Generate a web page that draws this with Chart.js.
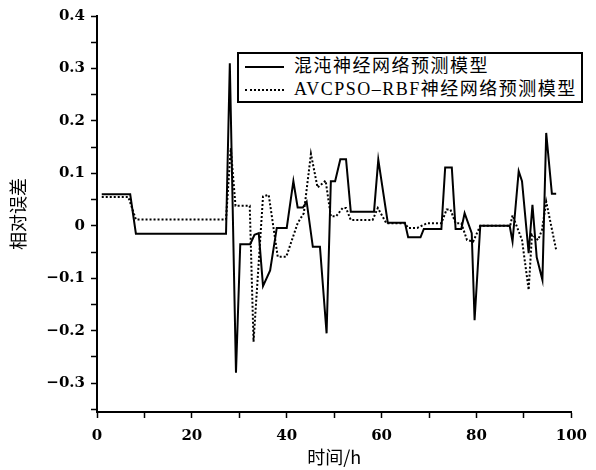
<!DOCTYPE html>
<html lang="zh-CN">
<head>
<meta charset="UTF-8">
<title>相对误差对比</title>
<script src="https://cdn.jsdelivr.net/npm/chart.js"></script>
<style>
  html, body { margin: 0; padding: 0; background: #fff; }
  .wrap { position: relative; width: 596px; height: 470px; }
  #legend {
    position: absolute; left: 237px; top: 52px; width: 342px; height: 47px;
    border: 2px solid #000; background: #fff; color: #000;
    font-family: 'Liberation Serif', 'Noto Sans CJK SC', serif;
    font-size: 18px; letter-spacing: 1.5px;
  }
  .row { position: absolute; left: 0; height: 22px; line-height: 22px; white-space: nowrap; }
  .row .sample { position: absolute; left: 6px; top: 11px; width: 39px; border-top: 2px solid #000; }
  .row .sample.dot { border-top: 2px dotted #000; }
  .row .txt { position: absolute; left: 55px; top: 0; }
</style>
</head>
<body>
<div class="wrap">
  <canvas id="errChart" width="596" height="470"></canvas>
  <div id="legend">
    <div class="row" style="top:1px"><span class="sample"></span><span class="txt">混沌神经网络预测模型</span></div>
    <div class="row" style="top:24px"><span class="sample dot"></span><span class="txt">AVCPSO–RBF神经网络预测模型</span></div>
  </div>
</div>

<script>
  // 混沌神经网络预测模型 (实线)
  const chaosHours = [1, 7, 8.2, 27.2, 28, 29.3, 30.2, 32.3, 33.2, 34.1, 35, 36.5, 37.9, 40, 41.4, 42.3, 43.4, 44.2, 45.5, 47, 48.4, 49.3, 50.2, 51.3, 52.5, 53.5, 58.4, 59.3, 61.3, 64.9, 65.6, 68.2, 68.9, 72.6, 73.4, 74.8, 75.6, 76.8, 77.5, 79, 79.6, 80.8, 87, 87.6, 88.9, 89.6, 91, 91.8, 92.7, 93.9, 94.7, 95.9, 96.8];
  const chaosErr = [0.06, 0.06, -0.015, -0.015, 0.31, -0.28, -0.035, -0.035, -0.017, -0.014, -0.115, -0.085, -0.004, -0.004, 0.085, 0.035, 0.035, 0.046, -0.04, -0.04, -0.205, 0.085, 0.085, 0.127, 0.127, 0.027, 0.027, 0.126, 0.006, 0.006, -0.022, -0.022, -0.006, -0.006, 0.111, 0.111, -0.006, -0.006, 0.024, -0.014, -0.18, 0, 0, -0.03, 0.104, 0.085, -0.052, 0.04, -0.06, -0.103, 0.177, 0.061, 0.061];

  // AVCPSO-RBF神经网络预测模型 (点线)
  const rbfHours = [1, 6.6, 8.2, 27.2, 28.2, 29.2, 32.2, 33, 35, 36.2, 38.1, 39.9, 42.3, 43.6, 45.1, 46.5, 48.2, 49.3, 50.4, 51.8, 52.5, 53.5, 58.1, 59.2, 61, 64.9, 65.6, 67.5, 69.6, 72.6, 73.7, 74.5, 75.6, 76.8, 78, 79.3, 80.8, 87.1, 87.6, 89.6, 91, 91.7, 93, 93.8, 94.7, 96.8];
  const rbfErr = [0.055, 0.055, 0.012, 0.012, 0.148, 0.038, 0.038, -0.221, 0.056, 0.059, -0.059, -0.059, 0.005, 0.024, 0.137, 0.073, 0.086, 0.018, 0.018, 0.034, 0.034, 0.011, 0.011, 0.034, 0.005, 0.005, -0.004, -0.004, 0.005, 0.005, 0.031, 0.031, 0.005, 0.005, -0.027, -0.03, 0, 0, 0.02, -0.027, -0.122, -0.017, -0.027, -0.008, 0.046, -0.046];

  // 刻度标签
  const xTickLabels = [0, 20, 40, 60, 80, 100];
  const yTickLabels = [-0.3, -0.2, -0.1, 0, 0.1, 0.2, 0.3, 0.4];

  const tickFont = { family: "'DejaVu Serif', 'Liberation Serif', serif", size: 15, weight: 'bold' };
  const titleFont = { family: "'Noto Sans CJK SC', sans-serif", size: 18 };

  function toPoints(xs, ys) {
    return xs.map((x, i) => ({ x: x, y: ys[i] }));
  }

  new Chart(document.getElementById('errChart').getContext('2d'), {
    type: 'line',
    data: {
      datasets: [
        {
          label: '混沌神经网络预测模型',
          data: toPoints(chaosHours, chaosErr),
          borderColor: '#000',
          borderWidth: 2,
          pointRadius: 0,
          tension: 0,
          fill: false
        },
        {
          label: 'AVCPSO–RBF神经网络预测模型',
          data: toPoints(rbfHours, rbfErr),
          borderColor: '#000',
          borderWidth: 2,
          borderDash: [2, 2],
          pointRadius: 0,
          tension: 0,
          fill: false
        }
      ]
    },
    options: {
      responsive: false,
      animation: false,
      layout: { padding: { top: 16, right: 20, left: 0, bottom: 0 } },
      plugins: {
        legend: { display: false },
        tooltip: { enabled: false }
      },
      scales: {
        x: {
          type: 'linear',
          min: 0,
          max: 100,
          afterFit: s => { s.height = 58; },
          ticks: {
            stepSize: 10,
            autoSkip: false,
            maxRotation: 0,
            padding: 9,
            color: '#000',
            font: tickFont,
            callback: v => xTickLabels.includes(v) ? String(v) : ''
          },
          grid: { drawOnChartArea: false, tickLength: 6, tickColor: '#000', tickWidth: 1.5 },
          border: { color: '#000', width: 2 },
          title: { display: true, text: '时间/h', color: '#000', font: titleFont, padding: { top: 0, bottom: 2 } }
        },
        y: {
          min: -0.355,
          max: 0.4,
          afterFit: s => { s.width = 97; },
          ticks: {
            stepSize: 0.05,
            includeBounds: false,
            autoSkip: false,
            padding: 6,
            color: '#000',
            font: tickFont,
            callback: v => {
              const r = Math.round(v * 10) / 10;
              if (Math.abs(v - r) > 1e-6 || !yTickLabels.some(t => Math.abs(t - r) < 1e-6)) return '';
              if (r === 0) return '0';
              return (r < 0 ? '\u2212' : '') + Math.abs(r).toFixed(1);
            }
          },
          grid: { drawOnChartArea: false, tickLength: 6, tickColor: '#000', tickWidth: 1.5 },
          border: { color: '#000', width: 2 },
          title: { display: true, text: '相对误差', color: '#000', font: titleFont, padding: { top: 7, bottom: 0 } }
        }
      }
    }
  });
</script>
</body>
</html>
